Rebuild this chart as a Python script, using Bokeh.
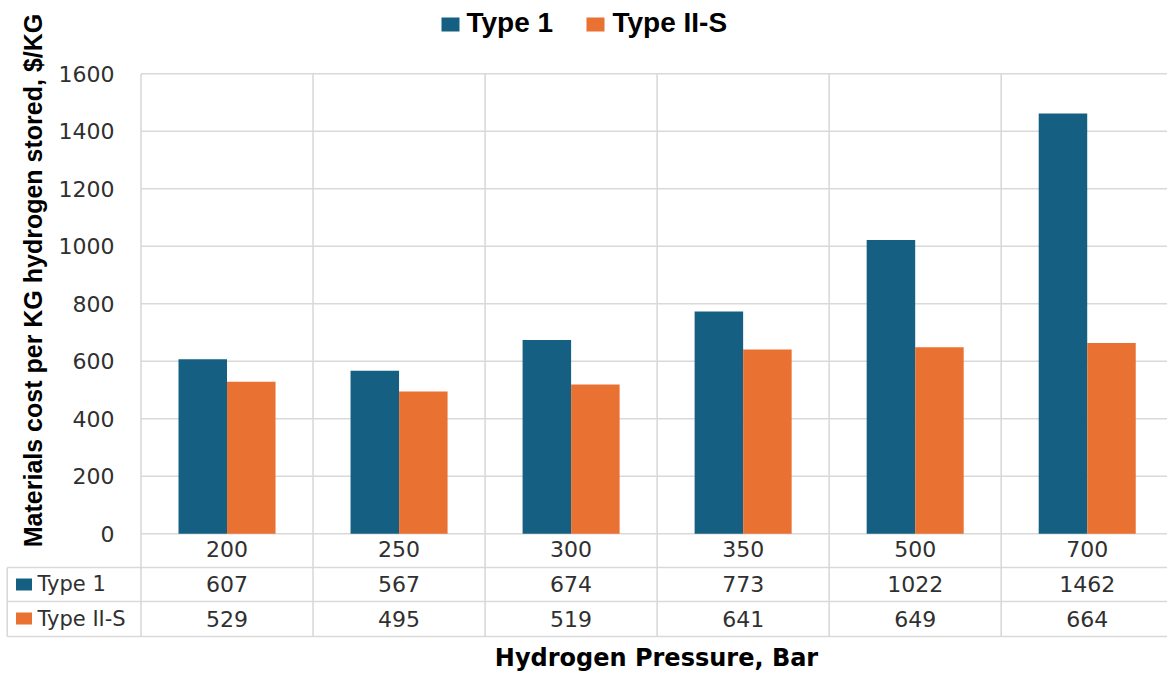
import math

from bokeh.core.properties import value
from bokeh.embed import file_html
from bokeh.models import Range1d
from bokeh.plotting import figure
from bokeh.resources import INLINE

# ---- data -------------------------------------------------------------
pressures = ["200", "250", "300", "350", "500", "700"]
type1 = [607, 567, 674, 773, 1022, 1462]
type2s = [529, 495, 519, 641, 649, 664]
series_names = ["Type 1", "Type II-S"]
y_ticks = [0, 200, 400, 600, 800, 1000, 1200, 1400, 1600]
y_tick_labels = [str(t) for t in y_ticks]
x_title = "Hydrogen Pressure, Bar"
y_title = "Materials cost per KG hydrogen stored, $/KG"

# ---- style ------------------------------------------------------------
BLUE = "#156082"
ORANGE = "#E97132"
GRID = "#d9d9d9"
TEXT = "#303030"
W, H = 1167, 675

# pixel layout of the plot area: category 0 starts at X0, value 0 sits at Y0
X0, CAT = 140.5, 172.04
Y0, PPU = 533.3, 0.2875


def dx(px):
    return (px - X0) / CAT


def dy(py):
    return (Y0 - py) / PPU


p = figure(
    width=W, height=H,
    x_range=Range1d(dx(0), dx(W)), y_range=Range1d(dy(H), dy(0)),
    x_axis_location=None, y_axis_location=None,
    toolbar_location=None, output_backend="svg",
    min_border=0,
)
p.grid.visible = False
p.outline_line_color = None
p.background_fill_color = "white"
p.border_fill_color = "white"

n = len(pressures)
centers = [i + 0.5 for i in range(n)]
x_right = dx(W + 20)

# horizontal value gridlines across the plot area
p.segment(x0=[0] * len(y_ticks), x1=[x_right] * len(y_ticks),
          y0=y_ticks, y1=y_ticks, line_color=GRID, line_width=1.6)

# data table grid below the plot
row_lines = [567.0, 601.0, 636.0]
table_left = dx(6.7)
p.segment(x0=[table_left] * len(row_lines), x1=[x_right] * len(row_lines),
          y0=[dy(r) for r in row_lines], y1=[dy(r) for r in row_lines],
          line_color=GRID, line_width=1.6)
bounds = list(range(n + 1))
p.segment(x0=bounds, x1=bounds, y0=[y_ticks[-1]] * len(bounds),
          y1=[dy(636.0)] * len(bounds), line_color=GRID, line_width=1.6)
p.segment(x0=[table_left], x1=[table_left], y0=[dy(567.0)], y1=[dy(636.0)],
          line_color=GRID, line_width=1.6)

# clustered bars
BAR_W = 0.282
p.vbar(x=[c - BAR_W / 2 for c in centers], top=type1, bottom=0, width=BAR_W,
       fill_color=BLUE, line_color=None)
p.vbar(x=[c + BAR_W / 2 for c in centers], top=type2s, bottom=0, width=BAR_W,
       fill_color=ORANGE, line_color=None)

num_font = value("DejaVu Sans")

# y tick labels
p.text(x=[dx(114)] * len(y_ticks), y=y_ticks, text=y_tick_labels,
       text_font=num_font, text_font_size="22px", text_color=TEXT,
       text_align="right", text_baseline="middle")

# table: category header row and the two value rows
p.text(x=centers, y=[dy(548.5)] * n, text=pressures,
       text_font=num_font, text_font_size="22px", text_color=TEXT,
       text_align="center", text_baseline="middle")
p.text(x=centers, y=[dy(583)] * n, text=[str(v) for v in type1],
       text_font=num_font, text_font_size="22px", text_color=TEXT,
       text_align="center", text_baseline="middle")
p.text(x=centers, y=[dy(618)] * n, text=[str(v) for v in type2s],
       text_font=num_font, text_font_size="22px", text_color=TEXT,
       text_align="center", text_baseline="middle")

# row keys
p.rect(x=[dx(23.5)] * 2, y=[dy(584), dy(618)], width=16, height=12,
       width_units="screen", height_units="screen",
       fill_color=[BLUE, ORANGE], line_color=None)
p.text(x=[dx(37)] * 2, y=[dy(583), dy(618)], text=series_names,
       text_font=num_font, text_font_size="21px", text_color=TEXT,
       text_align="left", text_baseline="middle")

# legend on top
p.rect(x=[dx(450), dx(595)], y=[dy(24)] * 2, width=18, height=14,
       width_units="screen", height_units="screen",
       fill_color=[BLUE, ORANGE], line_color=None)
p.text(x=[dx(466), dx(612)], y=[dy(22)] * 2, text=series_names,
       text_font=value("Liberation Sans"), text_font_style="bold",
       text_font_size="28px", text_color="black",
       text_align="left", text_baseline="middle")

# axis titles
p.text(x=[dx(656)], y=[dy(657)], text=[x_title],
       text_font=value("DejaVu Sans"), text_font_style="bold",
       text_font_size="24px", text_color="black",
       text_align="center", text_baseline="middle")
p.text(x=[dx(32)], y=[dy(280)], text=[y_title], angle=math.pi / 2,
       text_font=value("Liberation Sans"), text_font_style="bold",
       text_font_size="25px", text_color="black",
       text_align="center", text_baseline="middle")

open("out.html", "w").write(file_html(p, INLINE))
